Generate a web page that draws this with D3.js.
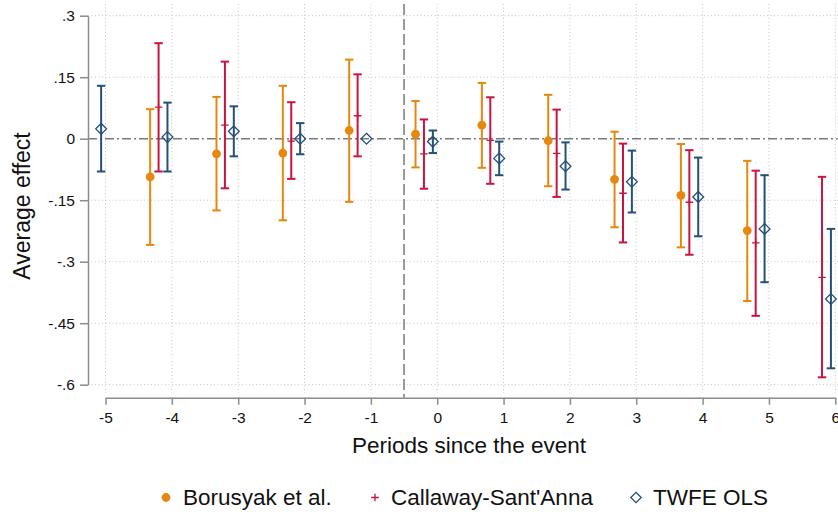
<!DOCTYPE html>
<html>
<head>
<meta charset="utf-8">
<script src="https://cdn.jsdelivr.net/npm/d3@7"></script>
<style>
  html, body { margin: 0; padding: 0; background: #fff; }
  svg { display: block; font-family: "Liberation Sans", Arial, Helvetica, sans-serif; }
</style>
</head>
<body>
<svg id="chart" width="838" height="514"></svg>
<script>
// Event-study estimates by period relative to the event
const periods = [-5, -4, -3, -2, -1, 0, 1, 2, 3, 4, 5, 6];

// Borusyak et al. (imputation estimator)
const borusyakEst = [null, -0.093, -0.037, -0.035, 0.020, 0.011, 0.033, -0.005, -0.099, -0.138, -0.224, null];
const borusyakLo  = [null, -0.259, -0.175, -0.199, -0.154, -0.070, -0.071, -0.116, -0.216, -0.265, -0.396, null];
const borusyakHi  = [null, 0.072, 0.102, 0.129, 0.193, 0.092, 0.136, 0.107, 0.017, -0.013, -0.054, null];

// Callaway-Sant'Anna
const callawayEst = [null, 0.077, 0.033, -0.006, 0.056, -0.037, -0.004, -0.036, -0.133, -0.155, -0.254, -0.338];
const callawayLo  = [null, -0.080, -0.121, -0.098, -0.043, -0.122, -0.110, -0.142, -0.253, -0.283, -0.432, -0.582];
const callawayHi  = [null, 0.233, 0.188, 0.089, 0.157, 0.047, 0.101, 0.071, -0.012, -0.028, -0.078, -0.093];

// TWFE OLS (period -1 is the omitted reference)
const twfeEst = [0.024, 0.004, 0.018, 0.000, 0.000, -0.007, -0.048, -0.067, -0.105, -0.142, -0.220, -0.391];
const twfeLo  = [-0.080, -0.080, -0.043, -0.038, 0.000, -0.035, -0.089, -0.124, -0.180, -0.238, -0.350, -0.560];
const twfeHi  = [0.129, 0.088, 0.079, 0.038, 0.000, 0.020, -0.007, -0.009, -0.029, -0.046, -0.089, -0.220];

const yTicks = [0.3, 0.15, 0, -0.15, -0.3, -0.45, -0.6];
const yTickLabels = [".3", ".15", "0", "-.15", "-.3", "-.45", "-.6"];
const seriesNames = ["Borusyak et al.", "Callaway-Sant'Anna", "TWFE OLS"];

const colors = { bor: "#e8870e", cal: "#c8143f", twfe: "#24507a" };
const gridColor = "#c4c4c4";
const axisColor = "#8c8c8c";

const svg = d3.select("#chart");

const x = d3.scaleLinear().domain([-5, 6]).range([105.5, 835.3]);
const y = d3.scaleLinear().domain([-0.6, 0.3]).range([384.7, 15.7]);

const plotTop = 4, plotBottom = 393, plotLeft = 88, plotRight = 838;

// Grid
const grid = svg.append("g");
grid.selectAll("line.vg").data(periods).join("line")
  .attr("x1", d => x(d)).attr("x2", d => x(d))
  .attr("y1", plotTop).attr("y2", plotBottom)
  .attr("stroke", gridColor).attr("stroke-width", 1).attr("stroke-dasharray", "1,2.5");
grid.selectAll("line.hg").data(yTicks.filter(d => d !== 0)).join("line")
  .attr("x1", plotLeft).attr("x2", plotRight)
  .attr("y1", d => y(d)).attr("y2", d => y(d))
  .attr("stroke", gridColor).attr("stroke-width", 1).attr("stroke-dasharray", "1,2.5");

// Zero line
svg.append("line")
  .attr("x1", plotLeft).attr("x2", plotRight)
  .attr("y1", y(0)).attr("y2", y(0))
  .attr("stroke", "#7a7a7a").attr("stroke-width", 1.5).attr("stroke-dasharray", "9,3,2,3");

// Event line between -1 and 0
svg.append("line")
  .attr("x1", x(-0.5)).attr("x2", x(-0.5))
  .attr("y1", plotTop).attr("y2", 397.7)
  .attr("stroke", "#7a7a7a").attr("stroke-width", 1.5).attr("stroke-dasharray", "11,4");

// Axes
const yAxis = d3.axisLeft(y).tickValues(yTicks)
  .tickFormat((d, i) => yTickLabels[i]).tickSize(8).tickSizeOuter(0).tickPadding(5);
const gy = svg.append("g").attr("transform", "translate(88,0)").call(yAxis);

const xAxis = d3.axisBottom(x).tickValues(periods)
  .tickFormat(d3.format("d")).tickSize(7).tickSizeOuter(0).tickPadding(7);
const gx = svg.append("g").attr("transform", "translate(0,397.7)").call(xAxis);

[gx, gy].forEach(g => {
  g.select(".domain").attr("stroke", axisColor).attr("stroke-width", 1.5);
  g.selectAll(".tick line").attr("stroke", axisColor).attr("stroke-width", 1.5);
  g.selectAll(".tick text").attr("fill", "#111").style("font-size", "15.5px")
    .style("font-family", "'Liberation Sans', Arial, Helvetica, sans-serif");
});
gx.selectAll(".tick text").text(d => d3.format("d")(d).replace("\u2212", "-"));

// Axis titles
svg.append("text")
  .attr("transform", "translate(30,206) rotate(-90)")
  .attr("text-anchor", "middle").attr("fill", "#111")
  .style("font-size", "23px").text("Average effect");
svg.append("text")
  .attr("x", 469).attr("y", 453).attr("text-anchor", "middle").attr("fill", "#111")
  .style("font-size", "22.5px").text("Periods since the event");

// Series with their horizontal offsets (in period units)
const series = [
  { key: "bor", est: borusyakEst, lo: borusyakLo, hi: borusyakHi, off: -0.327 },
  { key: "cal", est: callawayEst, lo: callawayLo, hi: callawayHi, off: -0.2 },
  { key: "twfe", est: twfeEst, lo: twfeLo, hi: twfeHi, off: -0.066 }
];

const capHalf = 4.2;
const diamondPath = s => `M0,${-s}L${s},0L0,${s}L${-s},0Z`;

series.forEach(s => {
  const rows = periods.map((p, i) => ({ p, est: s.est[i], lo: s.lo[i], hi: s.hi[i] }))
    .filter(r => r.est !== null);
  const g = svg.append("g");
  const col = colors[s.key];
  const bars = rows.filter(r => r.lo !== r.hi);
  const cx = r => x(r.p + s.off);

  g.selectAll("line.bar").data(bars).join("line")
    .attr("x1", cx).attr("x2", cx)
    .attr("y1", r => y(r.hi)).attr("y2", r => y(r.lo))
    .attr("stroke", col).attr("stroke-width", 2);
  ["hi", "lo"].forEach(k => {
    g.selectAll("line.cap" + k).data(bars).join("line")
      .attr("x1", r => cx(r) - capHalf).attr("x2", r => cx(r) + capHalf)
      .attr("y1", r => y(r[k])).attr("y2", r => y(r[k]))
      .attr("stroke", col).attr("stroke-width", 2);
  });

  if (s.key === "bor") {
    g.selectAll("circle").data(rows).join("circle")
      .attr("cx", cx).attr("cy", r => y(r.est)).attr("r", 4.4).attr("fill", col);
  } else if (s.key === "cal") {
    g.selectAll("path").data(rows).join("path")
      .attr("d", r => `M${cx(r) - 3.8},${y(r.est)}H${cx(r) + 3.8}M${cx(r)},${y(r.est) - 3.8}V${y(r.est) + 3.8}`)
      .attr("stroke", col).attr("stroke-width", 1.3).attr("fill", "none");
  } else {
    g.selectAll("path").data(rows).join("path")
      .attr("transform", r => `translate(${cx(r)},${y(r.est)})`)
      .attr("d", diamondPath(5.4))
      .attr("stroke", col).attr("stroke-width", 1.3).attr("fill", "none");
  }
});

// Legend
const legend = svg.append("g");
const legendItems = [
  { key: "bor", mx: 166, tx: 183 },
  { key: "cal", mx: 375, tx: 391 },
  { key: "twfe", mx: 636, tx: 653 }
];
const ly = 497.5;
legendItems.forEach((it, i) => {
  const col = colors[it.key];
  if (it.key === "bor") {
    legend.append("circle").attr("cx", it.mx).attr("cy", ly).attr("r", 4.4).attr("fill", col);
  } else if (it.key === "cal") {
    legend.append("path")
      .attr("d", `M${it.mx - 3.8},${ly}H${it.mx + 3.8}M${it.mx},${ly - 3.8}V${ly + 3.8}`)
      .attr("stroke", col).attr("stroke-width", 1.3);
  } else {
    legend.append("path").attr("transform", `translate(${it.mx},${ly})`)
      .attr("d", diamondPath(5.2)).attr("stroke", col).attr("stroke-width", 1.3).attr("fill", "none");
  }
  legend.append("text").attr("x", it.tx).attr("y", 505.3).attr("fill", "#111")
    .style("font-size", "22.5px").text(seriesNames[i]);
});
</script>
</body>
</html>
